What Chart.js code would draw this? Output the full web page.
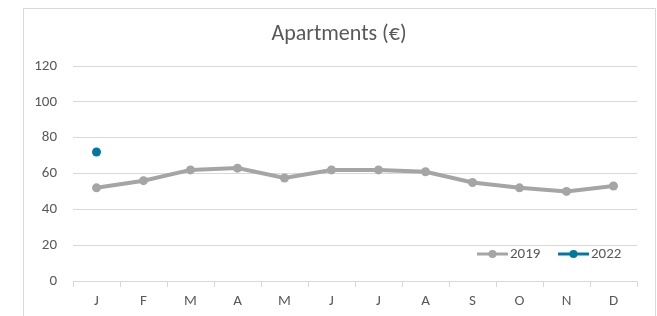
<!DOCTYPE html>
<html>
<head>
<meta charset="utf-8">
<script src="https://cdn.jsdelivr.net/npm/chart.js@4"></script>
<style>
  html, body { margin: 0; padding: 0; background: #fff; }
  #wrap { width: 657px; height: 316px; }
</style>
</head>
<body>
<div id="wrap"><canvas id="chart" width="657" height="316"></canvas></div>
<script>
const months = ["J", "F", "M", "A", "M", "J", "J", "A", "S", "O", "N", "D"];
const sales2019 = [52, 56, 62, 63, 57.5, 62, 62, 61, 55, 52, 50, 53];
const sales2022 = [72, null, null, null, null, null, null, null, null, null, null, null];
const yTicks = [0, 20, 40, 60, 80, 100, 120];

const FONT = "Carlito, Lato, 'Liberation Sans', sans-serif";
const TEXT = "#595959";
const GRID = "#d9d9d9";

// cadre gris + titre
const framePlugin = {
    id: 'frame',
    beforeDraw(chart) {
        const ctx = chart.ctx;
        ctx.save();
        ctx.strokeStyle = GRID;
        ctx.lineWidth = 1;
        ctx.strokeRect(23.5, 8.5, 632, 330);
        ctx.fillStyle = TEXT;
        ctx.font = "22px " + FONT;
        ctx.textAlign = 'center';
        ctx.textBaseline = 'middle';
        ctx.fillText("Apartments (\u20ac)", 339, 34);
        ctx.restore();
    }
};

// légende dans la zone du graphique
const legendPlugin = {
    id: 'insideLegend',
    afterDraw(chart) {
        const ctx = chart.ctx;
        const y = 254;
        const starts = [477, 558];
        ctx.save();
        ctx.font = "15px " + FONT;
        ctx.textBaseline = 'middle';
        ctx.textAlign = 'left';
        chart.data.datasets.forEach((ds, i) => {
            const x = starts[i];
            ctx.strokeStyle = ds.borderColor;
            ctx.lineWidth = 3;
            ctx.beginPath();
            ctx.moveTo(x, y);
            ctx.lineTo(x + 31, y);
            ctx.stroke();
            ctx.fillStyle = ds.backgroundColor;
            ctx.beginPath();
            ctx.arc(x + 15.5, y, 4, 0, Math.PI * 2);
            ctx.fill();
            ctx.fillStyle = TEXT;
            ctx.fillText(ds.label, x + 33, y);
        });
        ctx.restore();
    }
};

new Chart(document.getElementById('chart'), {
    type: 'line',
    data: {
        labels: months,
        datasets: [
            {
                label: "2019",
                data: sales2019,
                borderColor: "#a5a5a5",
                backgroundColor: "#a5a5a5",
                borderWidth: 4,
                pointRadius: 4.5,
                pointBorderWidth: 0,
                tension: 0
            },
            {
                label: "2022",
                data: sales2022,
                borderColor: "#00789f",
                backgroundColor: "#00789f",
                borderWidth: 3,
                pointRadius: 4.5,
                pointBorderWidth: 0,
                spanGaps: false
            }
        ]
    },
    options: {
        responsive: false,
        animation: false,
        layout: { padding: { left: 23, right: 20, top: 66, bottom: 0 } },
        plugins: {
            legend: { display: false },
            title: { display: false },
            tooltip: { enabled: false }
        },
        scales: {
            x: {
                offset: true,
                afterFit(scale) { scale.height = 35; },
                grid: {
                    offset: true,
                    drawOnChartArea: false,
                    color: GRID,
                    tickLength: 6
                },
                border: { color: GRID },
                ticks: { color: TEXT, font: { family: FONT, size: 15 }, padding: 5 }
            },
            y: {
                min: 0,
                max: 120,
                afterFit(scale) { scale.width = 50; },
                afterBuildTicks(scale) { scale.ticks = yTicks.map(v => ({ value: v })); },
                grid: { color: GRID, drawTicks: false },
                border: { display: false },
                ticks: { color: TEXT, font: { family: FONT, size: 15 }, padding: 16 }
            }
        }
    },
    plugins: [framePlugin, legendPlugin]
});
</script>
</body>
</html>
